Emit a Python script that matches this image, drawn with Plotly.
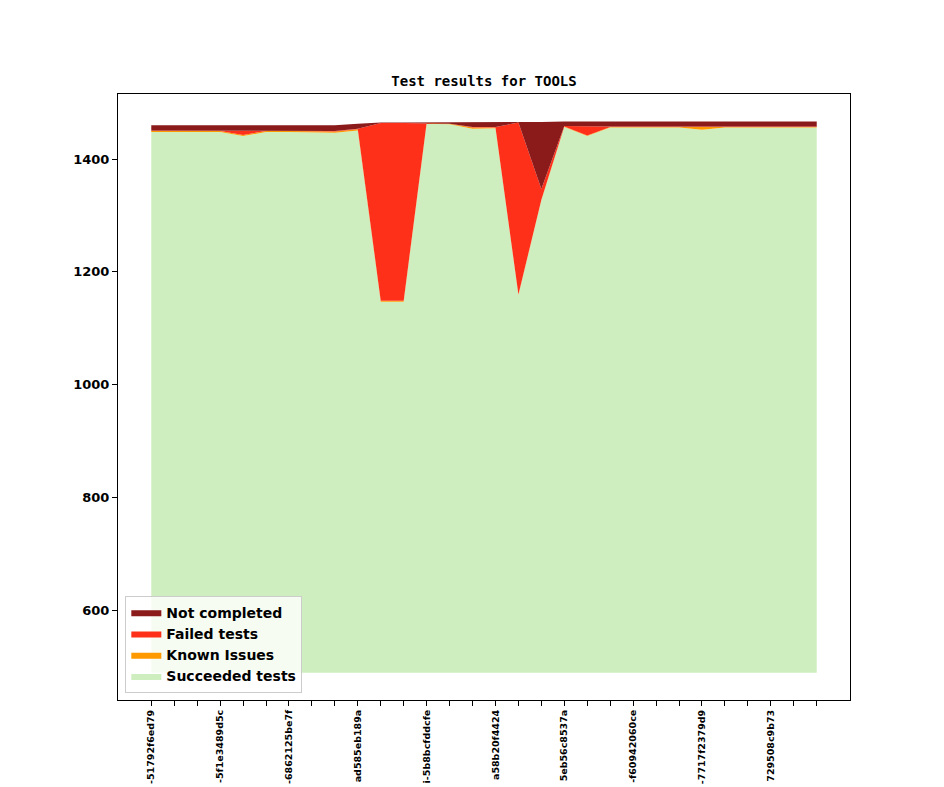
import plotly.graph_objects as go

# ---------------- dados ----------------
builds = list(range(30))
tick_labels = {
    0: "-51792f6ed79", 3: "-5f1e3489d5c", 6: "-6862125be7f", 9: "ad585eb189a",
    12: "i-5b8bcfddcfe", 15: "a58b20f4424", 18: "5eb56c8537a", 21: "-f60942060ce",
    24: "-7717f2379d9", 27: "729508c9b73",
}
base = [489] * 30
succeeded = [1448, 1448, 1448, 1448, 1441, 1448, 1448, 1448, 1447, 1451,
             1147, 1147, 1463, 1462, 1454, 1455, 1159, 1327, 1457, 1441,
             1456, 1456, 1456, 1456, 1452, 1456, 1456, 1456, 1456, 1456]
known = [2, 2, 2, 2, 2, 2, 2, 2, 2, 2,
         2, 2, 1, 1, 2, 1, 1, 1, 1, 1,
         1, 1, 1, 1, 4, 1, 1, 1, 1, 1]
failed = [1, 1, 1, 1, 8, 1, 1, 1, 1, 1,
          315, 315, 0, 0, 1, 1, 305, 19, 1, 16,
          1, 1, 1, 1, 1, 1, 1, 1, 1, 1]
not_completed = [9, 9, 9, 9, 9, 9, 9, 9, 10, 9,
                 1, 1, 1, 2, 8, 8, 0, 119, 8, 9,
                 9, 9, 9, 9, 10, 9, 9, 9, 9, 9]

VERDE = "#CFEEBF"
LARANJA = "#FF9900"
VERMELHO = "#FF3019"
VINHO = "#8B1A1A"

# empilhamento manual a partir do topo dos testes com sucesso
topo_known = [s + k for s, k in zip(succeeded, known)]
topo_failed = [t + f for t, f in zip(topo_known, failed)]
topo_nc = [t + n for t, n in zip(topo_failed, not_completed)]

fig = go.Figure()

fig.add_trace(go.Scatter(x=builds, y=base, mode="lines", line=dict(width=0),
                         showlegend=False, hoverinfo="skip"))

camadas = [
    ("Succeeded tests", succeeded, VERDE),
    ("Known Issues", topo_known, LARANJA),
    ("Failed tests", topo_failed, VERMELHO),
    ("Not completed", topo_nc, VINHO),
]
for nome, vals, cor in camadas:
    fig.add_trace(go.Scatter(x=builds, y=vals, mode="lines", line=dict(width=0),
                             fill="tonexty", fillcolor=cor, name=nome))

# a página tem margem de 8px no body
fig.update_layout(
    width=944, height=787,
    margin=dict(l=110, r=102, t=86, b=95),
    plot_bgcolor="white", paper_bgcolor="white",
    title=dict(text="<b>Test results for TOOLS</b>", x=476 / 944, xanchor="center",
               y=1 - 73 / 787, yanchor="middle",
               font=dict(family="DejaVu Sans Mono", size=14, color="black")),
    legend=dict(x=0.01, y=0.012, xanchor="left", yanchor="bottom",
                traceorder="reversed", bgcolor="rgba(255,255,255,0.8)",
                bordercolor="#cccccc", borderwidth=1,
                font=dict(family="DejaVu Sans", size=14, color="black", weight="bold"),
                itemsizing="constant", tracegroupgap=0),
    font=dict(family="DejaVu Sans", color="black"),
)

fig.update_xaxes(
    range=[-1.45, 30.45], showgrid=False, zeroline=False,
    showline=True, linecolor="black", linewidth=1, mirror=True,
    ticks="outside", ticklen=5, tickcolor="black",
    tickvals=builds, ticktext=[tick_labels.get(i, "") for i in builds],
    tickangle=-90, tickfont=dict(family="DejaVu Sans", size=9.5, weight="bold"),
    automargin=False,
)
fig.update_yaxes(
    range=[440.5, 1515.6], showgrid=False, zeroline=False,
    showline=True, linecolor="black", linewidth=1, mirror=True,
    ticks="outside", ticklen=5, tickcolor="black",
    tickvals=[600, 800, 1000, 1200, 1400],
    tickfont=dict(family="DejaVu Sans", size=13, weight="bold"),
    automargin=False,
)

fig.write_html("out.html")
